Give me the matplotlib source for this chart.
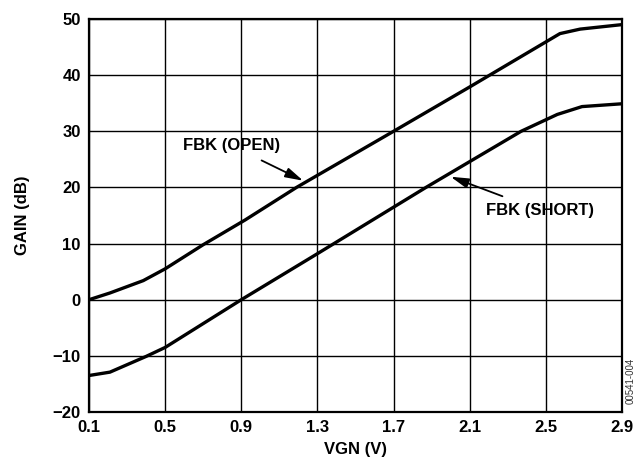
import matplotlib
matplotlib.use("Agg")
import matplotlib.pyplot as plt

plt.rcParams['font.family'] = ['Liberation Sans', 'DejaVu Sans']

# Data
vgn_open = [0.1, 0.21, 0.385, 0.5, 0.70, 0.92, 1.19, 1.70, 2.1, 2.574, 2.68, 2.9]
gain_open = [0.0, 1.2, 3.4, 5.5, 9.8, 14.2, 20.0, 30.0, 37.9, 47.4, 48.2, 49.0]

vgn_short = [0.1, 0.21, 0.40, 0.5, 0.9, 1.3, 1.87, 2.37, 2.56, 2.69, 2.9]
gain_short = [-13.5, -12.9, -10.1, -8.5, 0.0, 8.2, 20.0, 30.0, 33.0, 34.4, 34.9]

x_ticks = [0.1, 0.5, 0.9, 1.3, 1.7, 2.1, 2.5, 2.9]
y_ticks = [-20, -10, 0, 10, 20, 30, 40, 50]
y_tick_labels = ['\u221220', '\u221210', '0', '10', '20', '30', '40', '50']

FS = 12

fig = plt.figure(figsize=(6.35, 4.57), dpi=100)
ax = fig.add_axes([89/635, 1-412/457, (622-89)/635, (412-19)/457])

ax.plot(vgn_open, gain_open, color='black', lw=2.4, solid_capstyle='butt', zorder=3)
ax.plot(vgn_short, gain_short, color='black', lw=2.4, solid_capstyle='butt', zorder=3)

ax.set_xlim(0.1, 2.9)
ax.set_ylim(-20, 50)
ax.set_xticks(x_ticks)
ax.set_xticklabels([f"{v:.1f}" for v in x_ticks])
ax.set_yticks(y_ticks)
ax.set_yticklabels(y_tick_labels)
ax.grid(True, color='black', lw=1.0)
ax.set_axisbelow(True)
for s in ax.spines.values():
    s.set_linewidth(1.6)
ax.tick_params(length=0, pad=6, labelsize=FS)
for lab in ax.get_xticklabels() + ax.get_yticklabels():
    lab.set_fontweight('bold')

ax.set_xlabel('VGN (V)', fontsize=FS, fontweight='bold', labelpad=5)
ax.set_ylabel('GAIN (dB)', fontsize=FS, fontweight='bold', labelpad=16)

ax.annotate('FBK (OPEN)', xy=(1.225, 21.2), xytext=(0.85, 27.4),
            fontsize=FS, fontweight='bold', ha='center', va='center',
            arrowprops=dict(arrowstyle='-|>,head_length=0.9,head_width=0.25',
                            color='black', lw=1.3,
                            mutation_scale=12, shrinkA=7, shrinkB=0))
ax.annotate('FBK (SHORT)', xy=(2.0, 21.9), xytext=(2.47, 15.9),
            fontsize=FS, fontweight='bold', ha='center', va='center',
            arrowprops=dict(arrowstyle='-|>,head_length=0.9,head_width=0.25',
                            color='black', lw=1.3,
                            mutation_scale=12, shrinkA=8, shrinkB=0))

fig.text(631/635, 1-381/457, '00541-004', rotation=90, fontsize=7,
         ha='center', va='center', color='#333333')

fig.savefig('out.png', dpi=100)
